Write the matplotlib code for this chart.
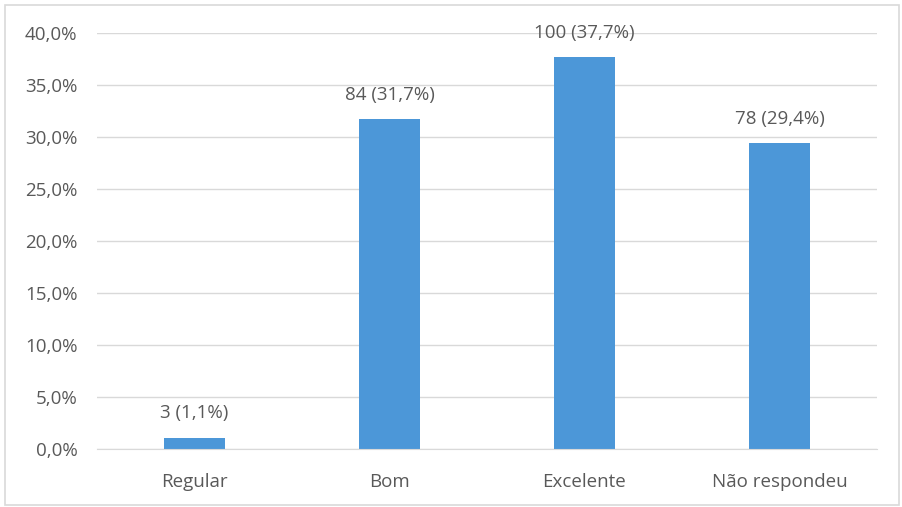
import matplotlib
matplotlib.use('Agg')
import matplotlib.pyplot as plt
from matplotlib.patches import Rectangle
from matplotlib.ticker import FuncFormatter

categories = ['Regular', 'Bom', 'Excelente', 'Não respondeu']
counts = [3, 84, 100, 78]
percents = [1.1, 31.7, 37.7, 29.4]
yticks = [0, 5, 10, 15, 20, 25, 30, 35, 40]

TEXT = '#595959'
BAR = '#4C97D8'
GRID = '#D9D9D9'
FS = 13.5

plt.rcParams['font.family'] = ['Open Sans', 'DejaVu Sans']

fig = plt.figure(figsize=(9.03, 5.07), dpi=100)
ax = fig.add_axes([97 / 903, 1 - 449 / 507, 780 / 903, 416 / 507])

x = range(len(categories))
ax.bar(x, percents, width=0.31, color=BAR, zorder=3)

for i, (c, p) in enumerate(zip(counts, percents)):
    lbl = f'{c} ({p:.1f}%)'.replace('.', ',')
    ax.annotate(lbl, (i, p), xytext=(0, 11), textcoords='offset points',
                ha='center', va='bottom', fontsize=FS, color=TEXT)

ax.set_xlim(-0.5, len(categories) - 0.5)
ax.set_ylim(0, 40)
ax.set_yticks(yticks)
ax.yaxis.set_major_formatter(FuncFormatter(lambda v, _: f'{v:.1f}%'.replace('.', ',')))
ax.set_xticks(list(x))
ax.set_xticklabels(categories)
ax.tick_params(axis='both', length=0, labelsize=FS, colors=TEXT)
ax.tick_params(axis='y', pad=14)
ax.tick_params(axis='x', pad=17)
ax.grid(axis='y', color=GRID, linewidth=1, zorder=0)
for name, spine in ax.spines.items():
    spine.set_visible(name == 'bottom')
ax.spines['bottom'].set_color(GRID)
ax.spines['bottom'].set_zorder(4)

fig.patches.append(Rectangle((5 / 903, 2 / 507), 894 / 903, 500 / 507,
                             transform=fig.transFigure, fill=False,
                             edgecolor=GRID, linewidth=1.2))

fig.savefig('out.png', dpi=100)
